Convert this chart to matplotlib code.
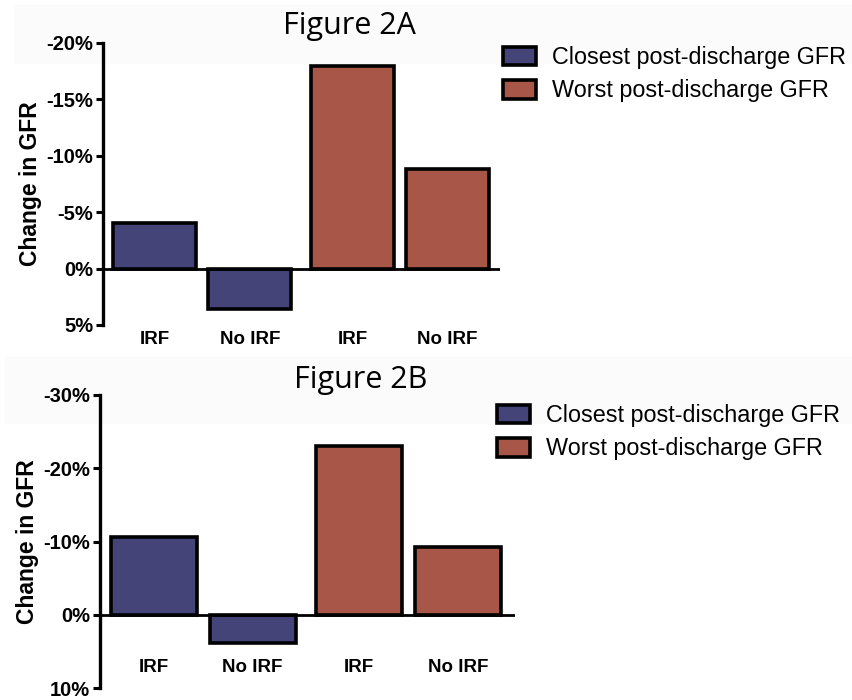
import numpy as np
import matplotlib.pyplot as plt
from matplotlib.patches import Rectangle

groups = ['IRF', 'No IRF', 'IRF', 'No IRF']
series = ['Closest post-discharge GFR', 'Worst post-discharge GFR']
colors = ['#454479', '#A85647']

# change in GFR (%), negative = decline; closest pair then worst pair
fig2a_closest = [-4.0, 3.6]
fig2a_worst = [-18.0, -8.8]
fig2b_closest = [-10.6, 3.8]
fig2b_worst = [-23.0, -9.2]

ticks_a = [-20, -15, -10, -5, 0, 5]
ticks_b = [-30, -20, -10, 0, 10]

pos = np.array([0, 1, 2.08, 3.08])

fig = plt.figure(figsize=(8.53, 7.0), dpi=100)

# faint grey header strips
fig.patches.append(Rectangle((15/853, 1-63/700), 1, 58/700, transform=fig.transFigure,
                             color='#fbfbfb', zorder=-5))
fig.patches.append(Rectangle((5/853, 1-423/700), 1, 66/700, transform=fig.transFigure,
                             color='#fbfbfb', zorder=-5))


def panel(rect, closest, worst, ticks, xlim, title, title_xy, leg_xy, lab_pad):
    ax = fig.add_axes(rect)
    ax.patch.set_alpha(0)
    vals = closest + worst
    cols = [colors[0]] * 2 + [colors[1]] * 2
    ax.bar(pos, vals, width=0.87, color=cols, edgecolor='black', linewidth=2.6, zorder=2)
    ax.axhline(0, color='black', lw=2.0, zorder=3)
    ax.set_ylim(ticks[-1], ticks[0])
    ax.set_xlim(*xlim)
    ax.set_yticks(ticks)
    ax.set_yticklabels(['%d%%' % t for t in ticks], fontfamily='Liberation Sans',
                       fontweight='bold', fontsize=14.5)
    ax.set_xticks(pos)
    ax.set_xticklabels(groups, fontfamily='Liberation Sans', fontweight='bold', fontsize=13.5)
    ax.tick_params(axis='x', length=0, pad=lab_pad)
    ax.tick_params(axis='y', length=5, width=2.2, pad=2)
    for s in ['top', 'right', 'bottom']:
        ax.spines[s].set_visible(False)
    ax.spines['left'].set_linewidth(2.4)
    ax.set_ylabel('Change in GFR', fontfamily='Liberation Sans', fontweight='bold',
                  fontsize=16.5, labelpad=3)
    fig.text(title_xy[0]/853, 1-title_xy[1]/700, title, fontfamily='Open Sans',
             fontsize=22, ha='center', va='center')
    handles = [Rectangle((0, 0), 1, 1, facecolor=c, edgecolor='black', linewidth=2.6)
               for c in colors]
    ax.legend(handles, series, loc='upper left', frameon=False,
              bbox_to_anchor=(leg_xy[0]/853, 1-leg_xy[1]/700), bbox_transform=fig.transFigure,
              prop={'family': 'Liberation Sans', 'size': 16.8}, handlelength=1.4,
              handleheight=0.85, handletextpad=0.7, labelspacing=0.45, borderpad=0,
              borderaxespad=0)
    return ax


panel([103/853, 1-325/700, 397/853, 282/700], fig2a_closest, fig2a_worst, ticks_a,
      (-0.542, 3.63), 'Figure 2A', (349, 26), (503, 46), 4)
panel([100/853, 1-688/700, 415/853, 293/700], fig2b_closest, fig2b_worst, ticks_b,
      (-0.548, 3.66), 'Figure 2B', (361, 380), (497, 404), -21)

fig.savefig('out.png', dpi=100)
